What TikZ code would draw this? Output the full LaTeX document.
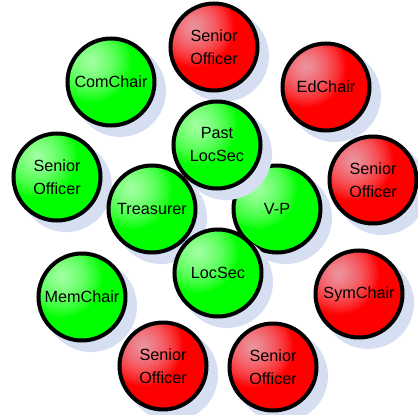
\documentclass[tikz,border=0pt]{standalone}
\usepackage{fontspec}
\setmainfont{Liberation Sans}
\definecolor{gd}{RGB}{0,255,0}
\definecolor{rd}{RGB}{255,0,0}
\definecolor{hlg}{RGB}{255,255,255}
\definecolor{hlr}{RGB}{235,235,250}
\definecolor{shadowblue}{RGB}{214,223,242}
\tikzset{
  member/.style={circle, draw=black, line width=4pt, minimum size=87pt, inner sep=0pt,
    align=center, text=black, font=\fontsize{16.2}{23}\selectfont},
  glow/.style={path picture={\foreach \r in {2,4,...,40}
      \fill[#1, opacity=0.052] ([shift={(-20pt,20pt)}]path picture bounding box.center) circle (\r pt);}},
  greenm/.style={member, fill=gd, glow=hlg},
  redm/.style={member, fill=rd, glow=hlr},
  shadowdisc/.style={circle, fill=shadowblue, minimum size=92pt, inner sep=0pt}
}
\newcommand{\mem}[5]{%
  \node[shadowdisc] (#1s) at (#2+9,#3+9) {};
  \node[#4] (#1) at (#2,#3) {#5};
}
\begin{document}
\begin{tikzpicture}[x=1pt,y=-1pt]
\useasboundingbox (0,0) rectangle (418,415);
\mem{sotop}{214}{47}{redm}{Senior\\Officer}
\mem{com}{111}{82}{greenm}{ComChair}
\mem{ed}{326}{87}{redm}{EdChair}
\mem{soleft}{57}{177}{greenm}{Senior\\Officer}
\mem{soright}{373}{180}{redm}{Senior\\Officer}
\mem{vp}{277}{209}{greenm}{V-P}
\mem{past}{217}{145}{greenm}{Past\\LocSec}
\mem{tre}{152}{209}{greenm}{Treasurer}
\mem{loc}{218}{273}{greenm}{LocSec}
\mem{mem}{82}{297}{greenm}{MemChair}
\mem{sym}{359}{294}{redm}{SymChair}
\mem{sobl}{163}{366}{redm}{Senior\\Officer}
\mem{sobr}{273}{367}{redm}{Senior\\Officer}
\end{tikzpicture}
\end{document}
